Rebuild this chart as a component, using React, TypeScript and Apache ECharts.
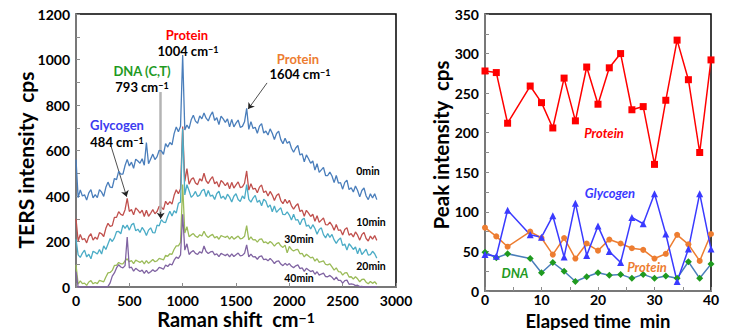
import React, { useEffect, useRef } from "react";
import * as echarts from "echarts";

// ---------- Left panel: TERS spectra (sampled every 20 cm-1, 0..2820) ----------
const RAMAN_STEP = 20;

const spectrum0min = [
  560, 393, 427, 400, 405, 382, 414, 428, 392, 406,
  393, 428, 417, 398, 438, 461, 439, 437, 477, 472,
  508, 496, 496, 534, 561, 532, 549, 522, 562, 554,
  544, 564, 535, 635, 542, 563, 584, 560, 573, 601,
  598, 583, 630, 615, 635, 625, 674, 703, 682, 707,
  1020, 690, 712, 696, 735, 755, 729, 720, 752, 739,
  765, 742, 730, 754, 770, 732, 744, 714, 751, 739,
  724, 739, 704, 737, 704, 720, 734, 702, 706, 726,
  785, 693, 727, 697, 702, 676, 707, 718, 677, 686,
  668, 695, 676, 648, 675, 685, 648, 630, 654, 632,
  640, 610, 592, 611, 622, 580, 586, 550, 581, 564,
  544, 554, 514, 542, 504, 515, 526, 490, 490, 505,
  488, 459, 490, 457, 459, 430, 460, 470, 428, 436,
  418, 444, 424, 396, 424, 435, 400, 384, 410, 391,
  410, 384,
];

const spectrum10min = [
  300, 202, 231, 208, 213, 194, 222, 234, 206, 219,
  210, 239, 234, 222, 258, 280, 267, 270, 306, 306,
  331, 319, 315, 340, 390, 332, 341, 317, 347, 338,
  325, 338, 310, 337, 311, 324, 340, 322, 332, 355,
  351, 340, 377, 362, 375, 364, 403, 427, 410, 432,
  705, 464, 520, 452, 473, 480, 457, 450, 476, 466,
  500, 467, 455, 473, 485, 454, 463, 439, 468, 459,
  445, 459, 432, 460, 435, 449, 462, 437, 440, 456,
  510, 426, 454, 430, 434, 414, 439, 448, 415, 422,
  400, 420, 404, 380, 402, 410, 380, 366, 385, 368,
  381, 357, 342, 357, 366, 332, 338, 311, 337, 325,
  310, 320, 289, 313, 284, 294, 303, 274, 273, 285,
  271, 249, 275, 249, 251, 229, 253, 261, 228, 235,
  220, 242, 228, 206, 230, 240, 213, 202, 224, 210,
  226, 205,
];

const spectrum20min = [
  210, 141, 130, 149, 162, 132, 144, 124, 157, 152,
  145, 165, 145, 181, 165, 189, 213, 200, 216, 243,
  244, 234, 272, 258, 272, 250, 273, 280, 247, 254,
  240, 262, 248, 226, 250, 260, 239, 238, 272, 269,
  296, 285, 283, 311, 333, 312, 335, 325, 368, 373,
  695, 405, 450, 423, 394, 404, 420, 398, 404, 423,
  430, 398, 424, 399, 404, 385, 411, 421, 390, 399,
  385, 408, 395, 374, 399, 410, 385, 376, 400, 388,
  450, 385, 373, 391, 403, 372, 381, 357, 386, 377,
  350, 361, 331, 356, 328, 339, 348, 319, 318, 330,
  316, 294, 320, 294, 296, 274, 296, 302, 267, 272,
  255, 274, 257, 232, 253, 260, 230, 216, 235, 218,
  231, 207, 192, 207, 216, 182, 189, 163, 190, 179,
  165, 176, 146, 171, 143, 154, 166, 140, 142, 157,
  146, 127,
];

const spectrum30min = [
  97, 13, 27, 15, 17, 7, 22, 28, 14, 20,
  15, 29, 26, 23, 44, 62, 64, 73, 95, 95,
  108, 102, 102, 115, 124, 111, 116, 103, 118, 113,
  108, 115, 102, 116, 104, 112, 121, 111, 115, 126,
  123, 119, 139, 135, 146, 144, 166, 181, 181, 196,
  450, 237, 265, 221, 229, 235, 223, 218, 230, 224,
  245, 226, 218, 226, 231, 216, 222, 210, 226, 222,
  218, 224, 210, 223, 210, 217, 224, 212, 214, 223,
  270, 207, 220, 207, 208, 197, 209, 212, 195, 198,
  190, 200, 192, 180, 191, 195, 181, 174, 184, 150,
  178, 165, 158, 164, 165, 146, 148, 132, 144, 136,
  128, 131, 114, 124, 108, 112, 115, 99, 97, 102,
  88, 74, 84, 68, 66, 52, 62, 63, 44, 45,
  35, 45, 36, 23, 33, 35, 21, 14, 24, 16,
  23, 12,
];

const spectrum40min = [
  67, 0, 0, 0, 0, 0, 0, 0, 0, 0,
  0, 0, 0, 0, 0, 3, 18, 48, 62, 84,
  98, 88, 84, 94, 220, 84, 87, 70, 82, 75,
  68, 74, 60, 73, 60, 67, 76, 68, 74, 86,
  83, 78, 97, 90, 101, 97, 118, 131, 126, 141,
  320, 162, 190, 143, 154, 160, 148, 143, 155, 149,
  180, 156, 147, 154, 157, 141, 146, 133, 148, 143,
  138, 145, 132, 146, 134, 142, 149, 137, 139, 148,
  185, 132, 145, 132, 133, 122, 134, 137, 120, 123,
  115, 125, 116, 103, 113, 115, 101, 94, 104, 96,
  103, 91, 85, 93, 97, 81, 84, 69, 82, 75,
  68, 72, 56, 67, 52, 57, 61, 46, 45, 51,
  43, 31, 43, 29, 29, 17, 28, 30, 12, 14,
  12, 6, 8, 2, 3, 0, 0, 0, 0, 0,
  0, 0,
];

const ramanTicks = [0, 500, 1000, 1500, 2000, 2500, 3000];
const tersTicks = [0, 200, 400, 600, 800, 1000, 1200];

// ---------- Right panel: peak intensity vs elapsed time ----------
const elapsedMin = [0, 2, 4, 8, 10, 12, 14, 16, 18, 20, 22, 24, 26, 28, 30, 32, 34, 36, 38, 40];
const protein1004 = [278, 276, 212, 259, 238, 206, 269, 215, 283, 236, 282, 300, 229, 233, 160, 241, 317, 267, 175, 292];
const glycogen484 = [46, 44, 102, 71, 68, 95, 43, 111, 45, 82, 50, 36, 93, 85, 123, 72, 12, 53, 123, 53];
const protein1604 = [80, 69, 56, 75, 67, 46, 67, 41, 60, 51, 65, 60, 54, 52, 41, 47, 71, 59, 38, 72];
const dna793 = [49, 42, 47, 41, 23, 36, 25, 12, 18, 23, 20, 21, 16, 21, 16, 19, 16, 37, 16, 34];
const timeTicks = [0, 10, 20, 30, 40];
const peakTicks = [0, 50, 100, 150, 200, 250, 300, 350];

const FONT = "Lato, 'Open Sans', Arial, sans-serif";

const toPairs = (vals: number[]) => vals.map((v, i) => [i * RAMAN_STEP, v]);

const supRich = (size: number) => ({
  sup: { fontSize: size, fontWeight: "bold" as const, fontFamily: FONT, verticalAlign: "top" as const, fill: "#000" },
});

export default function App() {
  const ref = useRef<HTMLDivElement>(null);

  useEffect(() => {
    if (!ref.current) return;
    const chart = echarts.init(ref.current, undefined, { renderer: "svg" });

    const baseLabel = {
      fontFamily: FONT, fontWeight: "bold" as const, fontSize: 14, color: "#000", lineHeight: 14,
      formatter: (v: number) => String(v),
    };
    const yAxisLabel = { ...baseLabel, margin: 6 };
    const greyAxisLine = { show: true, lineStyle: { color: "#8c8c8c", width: 1.5 } };
    const tick = { show: true, inside: true, length: 4, lineStyle: { color: "#8c8c8c" } };
    const minor = { show: true, splitNumber: 2, length: 4, lineStyle: { color: "#8c8c8c" } };

    const specLine = (name: string, data: number[], color: string, z: number, extra: any = {}) => ({
      name,
      type: "line",
      xAxisIndex: 0,
      yAxisIndex: 0,
      data: toPairs(data),
      showSymbol: false,
      symbol: "none",
      lineStyle: { color, width: 1.3 },
      z,
      ...extra,
    });

    const peakLine = (name: string, data: number[], lineColor: string, markColor: string, symbol: string, size: number) => ({
      name,
      type: "line",
      xAxisIndex: 1,
      yAxisIndex: 1,
      data: elapsedMin.map((t, i) => [t, data[i]]),
      symbol,
      symbolSize: size,
      lineStyle: { color: lineColor, width: 1.5 },
      itemStyle: { color: markColor },
    });

    const label = (x: number, y: number, text: string, color: string, size = 13, italic = false, lh = size) => ({
      type: "text",
      x,
      y,
      silent: true,
      z: 100,
      style: {
        text,
        fill: color,
        font: `${italic ? "italic " : ""}bold ${size}px ${FONT}`,
        fontFamily: FONT,
        fontWeight: "bold",
        fontStyle: italic ? "italic" : "normal",
        fontSize: size,
        lineHeight: lh,
        align: "center",
        verticalAlign: "middle",
        rich: { sup: { ...supRich(Math.round(size * 0.7)).sup, lineHeight: lh } },
      },
    });

    const option: any = {
      animation: false,
      backgroundColor: "#fff",
      grid: [
        { left: 76, top: 14, width: 320, height: 273, show: true, borderColor: "#000", borderWidth: 1.5, backgroundColor: "transparent" },
        { left: 485, top: 14, width: 226, height: 277, show: true, borderColor: "#000", borderWidth: 1.5, backgroundColor: "transparent" },
      ],
      xAxis: [
        {
          type: "value", gridIndex: 0, min: ramanTicks[0], max: ramanTicks[ramanTicks.length - 1], interval: 500,
          axisLine: greyAxisLine, axisTick: tick, minorTick: { show: false }, splitLine: { show: false }, axisLabel: { ...baseLabel, margin: 6 },
        },
        {
          type: "value", gridIndex: 1, min: timeTicks[0], max: timeTicks[timeTicks.length - 1], interval: 10,
          axisLine: greyAxisLine, axisTick: tick, minorTick: minor, splitLine: { show: false }, axisLabel: { ...baseLabel, margin: 1 },
        },
      ],
      yAxis: [
        {
          type: "value", gridIndex: 0, min: tersTicks[0], max: tersTicks[tersTicks.length - 1], interval: 200,
          axisLine: greyAxisLine, axisTick: tick, minorTick: minor, splitLine: { show: false }, axisLabel: yAxisLabel,
        },
        {
          type: "value", gridIndex: 1, min: peakTicks[0], max: peakTicks[peakTicks.length - 1], interval: 50,
          axisLine: greyAxisLine, axisTick: tick, minorTick: minor, splitLine: { show: false }, axisLabel: yAxisLabel,
        },
      ],
      series: [
        specLine("10min", spectrum10min, "#c0504d", 2),
        specLine("20min", spectrum20min, "#4bacc6", 3, {
          markLine: {
            silent: true,
            symbol: ["none", "none"],
            label: { show: false },
            lineStyle: { color: "#b4b4b4", width: 2.5, type: "solid" },
            data: [[{ coord: [794, 857] }, { coord: [794, 318] }]],
          },
        }),
        specLine("30min", spectrum30min, "#9bbb59", 4),
        specLine("40min", spectrum40min, "#8064a2", 5),
        specLine("0min", spectrum0min, "#4a7ebb", 6, {
          markLine: {
            silent: true,
            symbol: ["none", "arrow"],
            symbolSize: 6,
            label: { show: false },
            lineStyle: { color: "#222", width: 0.8, type: "solid" },
            data: [
              [{ coord: [330, 617] }, { coord: [475, 397] }],
              [{ coord: [794, 330] }, { coord: [794, 300] }],
              [{ coord: [1791, 897] }, { coord: [1614, 782] }],
            ],
          },
        }),
        peakLine("DNA", dna793, "#4a7ebb", "#1f9a1f", "diamond", 7),
        peakLine("Protein 1604", protein1604, "#ed7d31", "#ed7d31", "circle", 6),
        peakLine("Glycogen", glycogen484, "#3a3aff", "#3a3aff", "triangle", 7),
        peakLine("Protein 1004", protein1004, "#ff0000", "#ff0000", "rect", 7),
      ],
      graphic: [
        // left panel annotations
        label(117, 125, "Glycogen", "#3c3cf0"),
        label(117, 142, "484 cm{sup|−1}", "#000"),
        label(142, 71, "DNA (C,T)", "#1f9a1f"),
        label(142, 87, "793 cm{sup|−1}", "#000"),
        label(187, 35, "Protein", "#ff0000"),
        label(188, 51, "1004 cm{sup|−1}", "#000"),
        label(298, 59, "Protein", "#ed7d31"),
        label(300, 74, "1604 cm{sup|−1}", "#000"),
        label(368, 171, "0min", "#000", 10.5),
        label(371, 222, "10min", "#000", 10.5),
        label(371, 266, "20min", "#000", 10.5),
        label(299, 239, "30min", "#000", 10.5),
        label(299, 278, "40min", "#000", 10.5),
        // right panel annotations
        label(604, 133, "Protein", "#ff0000", 13, true),
        label(610, 193, "Glycogen", "#3a3aff", 13, true),
        label(647, 267, "Protein", "#ed7d31", 13, true),
        label(515, 273, "DNA", "#1f9a1f", 13, true),
        // axis titles
        label(236, 319, "Raman shift  cm{sup|−1}", "#000", 20, false, 18),
        { ...label(25, 160, "TERS intensity  cps", "#000", 21), rotation: Math.PI / 2 },
        label(598, 320.5, "Elapsed time  min", "#000", 18.5, false, 17),
        { ...label(441, 145, "Peak intensity  cps", "#000", 20.5), rotation: Math.PI / 2 },
      ],
    };

    chart.setOption(option);
    return () => chart.dispose();
  }, []);

  return <div ref={ref} style={{ position: "fixed", left: 0, top: 0, width: 754, height: 330 }} />;
}
